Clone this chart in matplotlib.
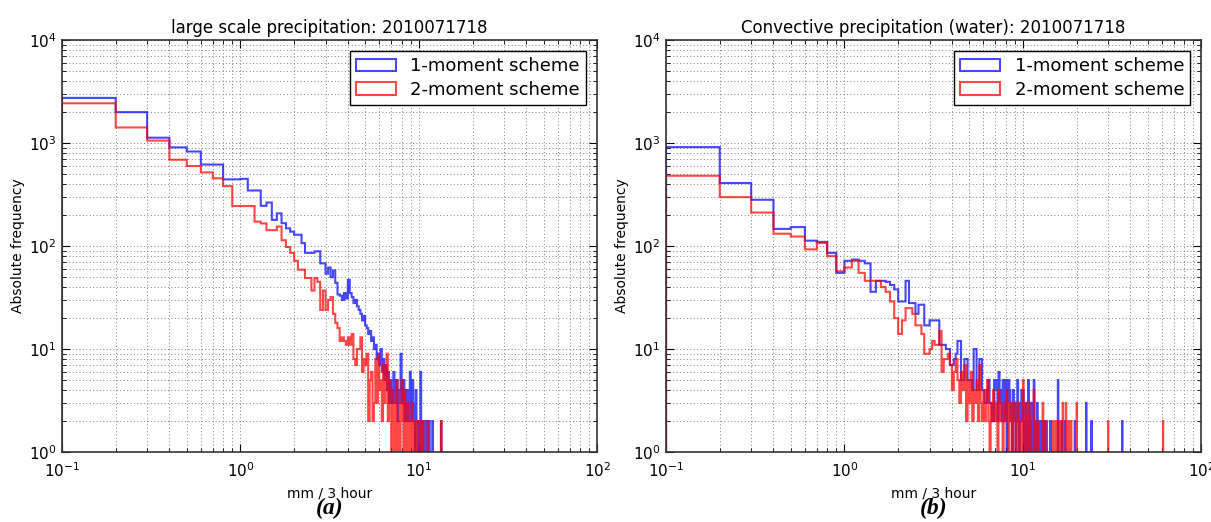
import numpy as np
import matplotlib.pyplot as plt

# counts per 0.1 mm bin, bins starting at 0.1, 0.2, ..., 9.9
ls_1mom = [2750, 2000, 1130, 910, 830, 620, 620, 445, 445,
           450, 347, 347, 246, 265, 180, 208, 167, 149, 138,
           129, 129, 107, 86, 86, 86, 89, 89, 68, 68,
           54, 62, 50, 58, 44, 34, 33, 30, 35, 31,
           47, 35, 32, 28, 30, 26, 24, 22, 19, 21,
           17, 16, 14, 15, 12, 13, 10, 11, 8, 9,
           7, 10, 6, 8, 5, 7, 4, 6, 3, 5,
           4, 3, 6, 4, 3, 5, 2, 4, 3, 9,
           4, 3, 5, 2, 4, 3, 2, 4, 2, 6,
           3, 2, 5, 2, 3, 1, 4, 2, 2, 1]
ls_2mom = [2440, 1420, 1060, 690, 600, 520, 456, 382, 245,
           245, 245, 173, 166, 143, 143, 155, 114, 98, 86,
           72, 59, 59, 49, 49, 37, 49, 45, 24, 37,
           24, 30, 32, 22, 18, 16, 12, 13, 12, 11,
           13, 11, 14, 8, 7, 10, 10, 13, 6, 8,
           7, 9, 2, 5, 6, 2, 3, 8, 3, 9,
           4, 5, 2, 7, 3, 4, 9, 2, 5, 3,
           1, 4, 2, 0, 3, 5, 1, 2, 0, 3,
           5, 2, 1, 4, 0, 2, 3, 1, 0, 2,
           1, 3, 0, 2, 1, 2, 0, 2, 1, 0]
cv_1mom = [915, 410, 282, 147, 153, 113, 110, 86, 55,
           72, 74, 72, 68, 36, 46, 46, 45, 42, 38,
           29, 29, 46, 28, 28, 22, 27, 27, 17, 17,
           19, 19, 19, 19, 11, 11, 11, 10, 10, 7,
           7, 8, 9, 12, 12, 5, 5, 8, 8, 5,
           5, 5, 4, 10, 10, 4, 4, 8, 8, 4,
           4, 3, 3, 4, 5, 3, 3, 2, 2, 5,
           5, 4, 2, 6, 3, 4, 2, 5, 3, 2,
           5, 1, 3, 5, 4, 2, 3, 1, 4, 2,
           3, 1, 2, 5, 2, 1, 3, 2, 4, 2]
cv_2mom = [482, 299, 212, 132, 124, 93, 107, 80, 57,
           62, 72, 55, 46, 46, 46, 40, 36, 29, 20,
           14, 19, 25, 25, 22, 17, 17, 14, 9, 9,
           10, 12, 11, 11, 15, 6, 8, 8, 9, 7,
           4, 6, 8, 5, 3, 6, 4, 7, 2, 5,
           3, 6, 2, 4, 3, 5, 2, 7, 3, 2,
           4, 2, 3, 5, 2, 1, 3, 2, 4, 2,
           3, 2, 1, 4, 2, 3, 2, 1, 2, 3,
           2, 4, 2, 1, 3, 2, 2, 1, 3, 2,
           2, 1, 2, 3, 2, 1, 2, 2, 1, 2]

# sparse tail above 10 mm: bin start and count
ls_1mom_tail_x = [10.0, 10.2, 10.4, 10.7, 11.0, 11.4, 11.9, 13.3]
ls_1mom_tail_n = [2, 6, 2, 2, 2, 2, 2, 2]
ls_2mom_tail_x = [10.1, 10.5, 11.2, 13.3]
ls_2mom_tail_n = [2, 2, 2, 2]
cv_1mom_tail_x = [10.0, 10.2, 10.4, 10.7, 10.9, 11.1, 11.5, 11.7, 12.0, 12.2, 12.6,
                  13.0, 13.5, 14.2, 15.7, 16.5, 17.2, 19.5, 22.6, 24.2, 36.0]
cv_1mom_tail_n = [4, 2, 3, 5, 2, 3, 5, 2, 3, 2, 2, 2, 2, 2, 5, 2, 2, 2, 3, 2, 2]
cv_2mom_tail_x = [10.0, 10.1, 10.3, 10.6, 10.8, 11.0, 11.5, 11.8, 12.1, 12.9, 13.3,
                  14.6, 15.2, 15.5, 15.9, 16.3, 16.7, 17.4, 18.0, 18.6, 20.0, 30.0, 61.0]
cv_2mom_tail_n = [5, 2, 3, 2, 3, 2, 4, 2, 2, 3, 2, 2, 2, 2, 2, 2, 3, 3, 2, 2, 3, 2, 2]

titles = ['large scale precipitation: 2010071718',
          'Convective precipitation (water): 2010071718']
panel_tags = ['(a)', '(b)']

edges = np.round(np.arange(1, 652) * 0.1, 1)


def full_counts(main, tail_x, tail_n):
    n = np.zeros(len(edges) - 1)
    n[:len(main)] = main
    for x, c in zip(tail_x, tail_n):
        n[int(round(x * 10)) - 1] = c
    return n


panels = [
    (full_counts(ls_1mom, ls_1mom_tail_x, ls_1mom_tail_n),
     full_counts(ls_2mom, ls_2mom_tail_x, ls_2mom_tail_n)),
    (full_counts(cv_1mom, cv_1mom_tail_x, cv_1mom_tail_n),
     full_counts(cv_2mom, cv_2mom_tail_x, cv_2mom_tail_n)),
]

fig = plt.figure(figsize=(12.11, 5.22), dpi=100)
lefts = [0.0512, 0.550]
centers = edges[:-1] + 0.05

for i, (n1, n2) in enumerate(panels):
    ax = fig.add_axes([lefts[i], 0.134, 0.442, 0.789])
    ax.hist(centers, bins=edges, weights=n1, histtype='step', color='#0000ff',
            alpha=0.72, lw=1.5, log=True, label='1-moment scheme')
    ax.hist(centers, bins=edges, weights=n2, histtype='step', color='#ff0000',
            alpha=0.72, lw=1.5, log=True, label='2-moment scheme')
    ax.set_xscale('log')
    ax.set_xlim(0.1, 100)
    ax.set_ylim(1, 1e4)
    ax.grid(True, which='both', ls=(0, (1, 2.5)), color='0.5', lw=0.7)
    ax.tick_params(which='both', direction='in', top=True, right=True, labelsize=11)
    ax.tick_params(axis='x', pad=7)
    ax.tick_params(axis='y', pad=4)
    ax.tick_params(which='major', length=6)
    ax.tick_params(which='minor', length=3)
    for s in ax.spines.values():
        s.set_linewidth(1.2)
        s.set_color('0.2')
    ax.set_title(titles[i], fontsize=12, pad=5)
    ax.set_xlabel('mm / 3 hour', fontsize=10, labelpad=4)
    ax.set_ylabel('Absolute frequency', fontsize=10, labelpad=3)
    leg = ax.legend(loc='upper right', fontsize=13, fancybox=False, framealpha=1,
                    edgecolor='black', borderaxespad=0.6, handlelength=2.2,
                    borderpad=0.35, labelspacing=0.3)
    leg.get_frame().set_linewidth(1.0)
    fig.text(lefts[i] + 0.221, 0.025, panel_tags[i], ha='center', va='center',
             fontsize=17, family='Liberation Serif', style='italic', weight='bold')

fig.savefig('out.png', dpi=100)
